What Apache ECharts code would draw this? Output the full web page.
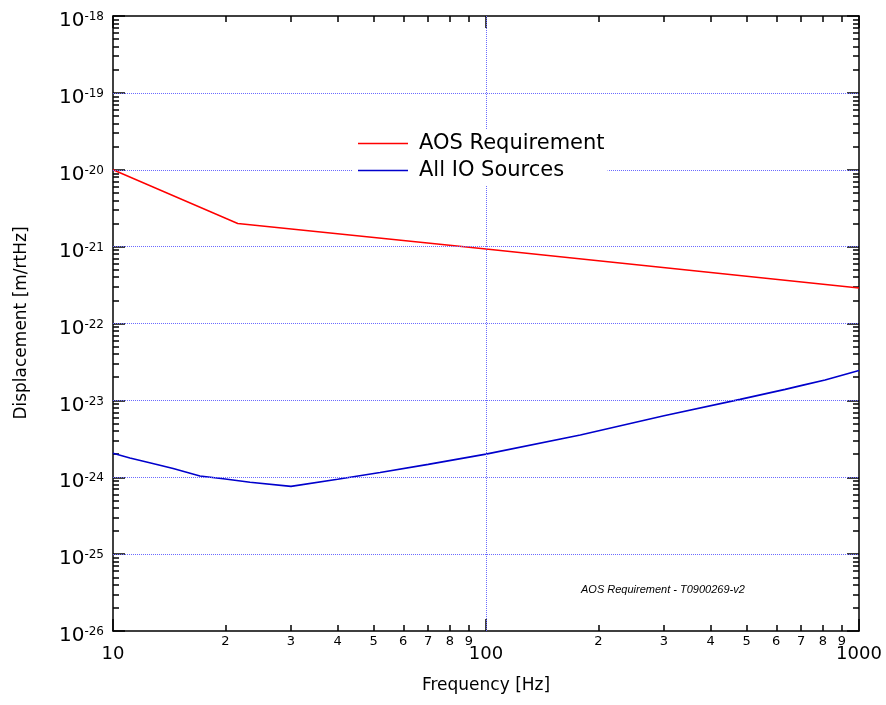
<!DOCTYPE html>
<html>
<head>
<meta charset="utf-8">
<script src="https://cdn.jsdelivr.net/npm/echarts@6/dist/echarts.min.js"></script>
<style>
html,body{margin:0;padding:0;background:#fff;}
#chart{width:886px;height:705px;}
</style>
</head>
<body>
<div id="chart"></div>
<script>
// ---- data ----
const aosFreq = [10, 21.6, 100, 1000];
const aosVal  = [1e-20, 2.0e-21, 9.3e-22, 2.9e-22];

const ioFreq = [10, 11.1, 12.7, 14.5, 17.1, 20, 23.3, 30, 40, 52, 70, 100, 179, 300, 480, 634, 708, 811, 1000];
const ioVal  = [2.05e-24, 1.78e-24, 1.52e-24, 1.3e-24, 1.04e-24, 9.5e-25, 8.6e-25, 7.6e-25, 9.4e-25, 1.15e-24, 1.47e-24, 2.0e-24, 3.55e-24, 6.3e-24, 1.03e-23, 1.39e-23, 1.58e-23, 1.84e-23, 2.45e-23];

const xMajor = [10, 100, 1000];
const xMinor = [20, 30, 40, 50, 60, 70, 80, 90, 200, 300, 400, 500, 600, 700, 800, 900];
const yMajor = [1e-26, 1e-25, 1e-24, 1e-23, 1e-22, 1e-21, 1e-20, 1e-19, 1e-18];
const yMinorMant = [2, 3, 4, 5, 6, 7, 8, 9];

const seriesNames = ['AOS Requirement', 'All IO Sources'];
const seriesColors = ['#ff0000', '#0000cc'];
const annotation = 'AOS Requirement - T0900269-v2';
const xTitle = 'Frequency [Hz]';
const yTitle = 'Displacement [m/rtHz]';

// ---- build ----
const yMinor = [];
for (let e = -26; e < -18; e++) {
  for (const m of yMinorMant) yMinor.push(parseFloat((m + 'e' + e)));
}
const FONT = 'DejaVu Sans';
const BLACK = '#000';
const GRIDC = '#6a6aff';
const lineW = 1.5;
const X_MIN = xMajor[0], X_MAX = xMajor[xMajor.length - 1];
const Y_MIN = yMajor[0], Y_MAX = yMajor[yMajor.length - 1];

function xAxisDef(pos, major) {
  return {
    type: 'log', logBase: 10, min: X_MIN, max: X_MAX, interval: 1,
    position: pos, gridIndex: 0,
    axisLine: { show: major, onZero: false, lineStyle: { color: BLACK, width: lineW } },
    axisTick: { show: true, inside: true, length: major ? 12 : 6,
      customValues: major ? xMajor : xMinor,
      lineStyle: { color: BLACK, width: 1.5 } },
    axisLabel: (pos === 'bottom') ? (major ? {
      show: true, customValues: xMajor, margin: 14, color: BLACK,
      fontFamily: FONT, fontSize: 18,
      formatter: v => String(Math.round(v))
    } : {
      show: true, customValues: xMinor, margin: 4, color: BLACK,
      fontFamily: FONT, fontSize: 13,
      formatter: v => String(Math.round(v / Math.pow(10, Math.floor(Math.log10(v) + 1e-9))))
    }) : { show: false },
    splitLine: { show: false },
    minorTick: { show: false }, minorSplitLine: { show: false }
  };
}
function yAxisDef(pos, major) {
  return {
    type: 'log', logBase: 10, min: Y_MIN, max: Y_MAX, interval: 1,
    position: pos, gridIndex: 0,
    axisLine: { show: major, onZero: false, lineStyle: { color: BLACK, width: lineW } },
    axisTick: { show: true, inside: true, length: major ? 12 : 6,
      customValues: major ? yMajor : yMinor,
      lineStyle: { color: BLACK, width: 1.5 } },
    axisLabel: (pos === 'left' && major) ? {
      show: true, customValues: yMajor, margin: 9, color: BLACK,
      padding: [10, 0, 0, 0],
      formatter: v => '{b|10}{s|' + Math.round(Math.log10(v)) + '}',
      rich: {
        b: { fontFamily: FONT, fontSize: 20, color: BLACK, lineHeight: 20, verticalAlign: 'bottom' },
        s: { fontFamily: FONT, fontSize: 12, color: BLACK, lineHeight: 10, verticalAlign: 'top' }
      }
    } : { show: false },
    splitLine: { show: false },
    minorTick: { show: false }, minorSplitLine: { show: false }
  };
}

// decade grid lines, placed through the axes' own scales
const gridLineStyle = { color: GRIDC, type: [1, 1], width: 1, opacity: 1 };
const gridMarks = [
  ...yMajor.slice(1, -1).map(v => [{ coord: [X_MIN, v] }, { coord: [X_MAX, v] }]),
  ...xMajor.slice(1, -1).map(v => [{ coord: [v, Y_MIN] }, { coord: [v, Y_MAX] }])
];

const chart = echarts.init(document.getElementById('chart'), null, { renderer: 'canvas' });
chart.setOption({
  animation: false,
  backgroundColor: '#fff',
  grid: { left: 113, right: 27, top: 16, bottom: 74, show: false },
  xAxis: [xAxisDef('bottom', true), xAxisDef('bottom', false), xAxisDef('top', true), xAxisDef('top', false)],
  yAxis: [yAxisDef('left', true), yAxisDef('left', false), yAxisDef('right', true), yAxisDef('right', false)],
  legend: {
    orient: 'vertical', left: 352, top: 129, z: 10,
    backgroundColor: '#fff', padding: [4, 3, 4, 6],
    icon: 'rect', itemWidth: 50, itemHeight: 1.6, itemGap: 6,
    textStyle: { fontFamily: FONT, fontSize: 21, color: BLACK, lineHeight: 21, padding: [0, 0, 0, 6] },
    data: seriesNames.map((n, i) => ({ name: n, itemStyle: { color: seriesColors[i] } }))
  },
  series: [
    {
      name: 'grid', type: 'line', xAxisIndex: 0, yAxisIndex: 0, data: [], z: 1, silent: true,
      markLine: { silent: true, symbol: 'none', label: { show: false }, lineStyle: gridLineStyle,
        emphasis: { disabled: true }, data: gridMarks }
    },
    {
      name: seriesNames[0], type: 'line', xAxisIndex: 0, yAxisIndex: 0,
      data: aosFreq.map((f, i) => [f, aosVal[i]]),
      symbol: 'none', lineStyle: { color: seriesColors[0], width: 1.4 }, itemStyle: { color: seriesColors[0] },
      z: 3
    },
    {
      name: seriesNames[1], type: 'line', xAxisIndex: 0, yAxisIndex: 0,
      data: ioFreq.map((f, i) => [f, ioVal[i]]),
      symbol: 'none', lineStyle: { color: seriesColors[1], width: 1.6 }, itemStyle: { color: seriesColors[1] },
      z: 3
    }
  ],
  graphic: [
    { type: 'text', left: 581, top: 584,
      style: { text: annotation, font: 'italic 11px "Liberation Sans"', fill: '#000' } },
    { type: 'text', x: 486, y: 686,
      style: { text: xTitle, font: '17px "DejaVu Sans"', fill: '#000', textAlign: 'center', textVerticalAlign: 'middle' } },
    { type: 'text', rotation: Math.PI / 2, x: 22, y: 323,
      style: { text: yTitle, font: '17px "DejaVu Sans"', fill: '#000', textAlign: 'center', textVerticalAlign: 'middle' } }
  ]
});
</script>
</body>
</html>
